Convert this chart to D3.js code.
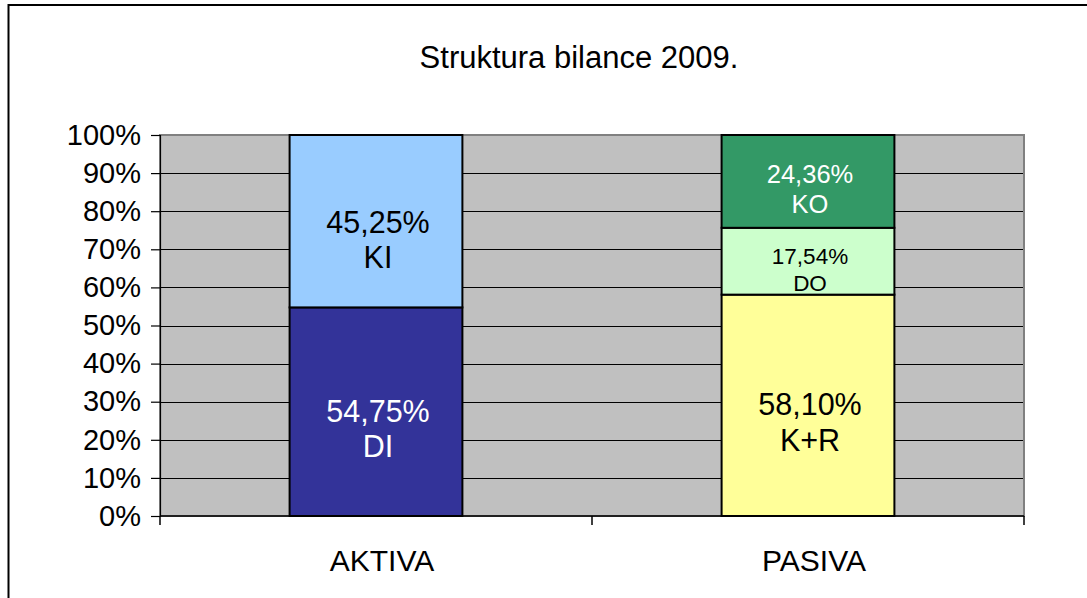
<!DOCTYPE html>
<html>
<head>
<meta charset="utf-8">
<script src="https://cdn.jsdelivr.net/npm/d3@7"></script>
<style>
  body { margin: 0; background: #fff; }
  text { font-family: "Liberation Sans", Arial, sans-serif; }
</style>
</head>
<body>
<div class="chart"></div>
<script>
// chart data
var categories = ["AKTIVA", "PASIVA"];
var segmentNames = ["DI", "KI", "K+R", "DO", "KO"];
var segmentCategory = ["AKTIVA", "AKTIVA", "PASIVA", "PASIVA", "PASIVA"];
var segmentValues = [54.75, 45.25, 58.10, 17.54, 24.36];
var segmentColors = ["#333399", "#99CCFF", "#FFFF99", "#CCFFCC", "#339966"];
var yTicks = [0, 10, 20, 30, 40, 50, 60, 70, 80, 90, 100];
var title = "Struktura bilance 2009.";

// label styles per segment (font size, text colour, baseline shift)
var labelStyle = {
  "DI":  { size: 30.5, fill: "#fff", dy: 10, gap: 35 },
  "KI":  { size: 30.5, fill: "#000", dy: 12, gap: 35 },
  "K+R": { size: 30.5, fill: "#000", dy: 10, gap: 36 },
  "DO":  { size: 22.5, fill: "#000", dy: 3, gap: 27 },
  "KO":  { size: 25.5, fill: "#fff", dy: 2, gap: 30 }
};

var svgWidth = 1087;
var svgHeight = 598;

var margin = { top: 135, right: 63, bottom: 82, left: 160 };
var width = svgWidth - margin.left - margin.right;
var height = svgHeight - margin.top - margin.bottom;

var svg = d3.select(".chart")
  .append("svg")
  .attr("width", svgWidth)
  .attr("height", svgHeight);

// outer frame
svg.append("rect")
  .attr("x", 8.5)
  .attr("y", 5)
  .attr("width", 1200)
  .attr("height", 800)
  .attr("fill", "none")
  .attr("stroke", "#000")
  .attr("stroke-width", 2);

svg.append("text")
  .attr("x", 579)
  .attr("y", 68)
  .attr("text-anchor", "middle")
  .attr("font-size", 31)
  .text(title);

var chartGroup = svg.append("g")
  .attr("transform", `translate(${margin.left}, ${margin.top})`);

var x_scale = d3.scaleBand()
  .domain(categories)
  .range([0, width]);

var y_scale = d3.scaleLinear()
  .domain([0, 100])
  .range([height, 0]);

// plot background
chartGroup.append("rect")
  .attr("width", width)
  .attr("height", height)
  .attr("fill", "#C0C0C0");

// gridlines
chartGroup.selectAll(".grid")
  .data(yTicks.filter(d => d > 0 && d < 100))
  .enter()
  .append("line")
  .attr("x1", 0)
  .attr("x2", width)
  .attr("y1", d => Math.round(y_scale(d)) + 0.5)
  .attr("y2", d => Math.round(y_scale(d)) + 0.5)
  .attr("stroke", "#000")
  .attr("stroke-width", 1.2);

// plot border
chartGroup.append("rect")
  .attr("width", width)
  .attr("height", height)
  .attr("fill", "none")
  .attr("stroke", "#808080")
  .attr("stroke-width", 2);

// stacked segments
var segments = segmentNames.map(function (name, i) {
  var base = 0;
  for (var j = 0; j < i; j++) {
    if (segmentCategory[j] === segmentCategory[i]) base += segmentValues[j];
  }
  return { name: name, cat: segmentCategory[i], y0: base, y1: base + segmentValues[i], value: segmentValues[i], color: segmentColors[i] };
});

var barWidth = x_scale.bandwidth() * 0.4;

chartGroup.selectAll(".seg")
  .data(segments)
  .enter()
  .append("rect")
  .attr("x", d => x_scale(d.cat) + (x_scale.bandwidth() - barWidth) / 2)
  .attr("y", d => y_scale(d.y1))
  .attr("width", barWidth)
  .attr("height", d => y_scale(d.y0) - y_scale(d.y1))
  .attr("fill", d => d.color)
  .attr("stroke", "#000")
  .attr("stroke-width", 2);

// segment labels
var labels = chartGroup.selectAll(".lab")
  .data(segments)
  .enter()
  .append("text")
  .attr("text-anchor", "middle")
  .attr("font-size", d => labelStyle[d.name].size)
  .attr("fill", d => labelStyle[d.name].fill);

labels.append("tspan")
  .attr("x", d => x_scale(d.cat) + x_scale.bandwidth() / 2 + 2)
  .attr("y", d => (y_scale(d.y0) + y_scale(d.y1)) / 2 + labelStyle[d.name].dy)
  .text(d => d.value.toFixed(2).replace(".", ",") + "%");

labels.append("tspan")
  .attr("x", d => x_scale(d.cat) + x_scale.bandwidth() / 2 + 2)
  .attr("y", d => (y_scale(d.y0) + y_scale(d.y1)) / 2 + labelStyle[d.name].dy + labelStyle[d.name].gap)
  .text(d => d.name);

// y axis
var leftAxis = d3.axisLeft(y_scale)
  .tickValues(yTicks)
  .tickSize(9)
  .tickPadding(10)
  .tickFormat(d => d + "%");

var yAxis = chartGroup.append("g").call(leftAxis);
yAxis.select(".domain").attr("stroke", "#000").attr("stroke-width", 1.2);
yAxis.selectAll(".tick line").attr("stroke", "#000").attr("stroke-width", 1.2);
yAxis.selectAll(".tick text")
  .attr("font-size", 29)
  .attr("font-family", "Liberation Sans, Arial, sans-serif")
  .attr("fill", "#000");

// x axis
var xAxisGroup = chartGroup.append("g")
  .attr("transform", `translate(0, ${height})`);

xAxisGroup.append("line")
  .attr("x1", 0).attr("x2", width)
  .attr("y1", 0).attr("y2", 0)
  .attr("stroke", "#000")
  .attr("stroke-width", 1.5);

var xTickPos = [0].concat(categories.map(c => x_scale(c) + x_scale.bandwidth()));
xAxisGroup.selectAll(".xt")
  .data(xTickPos)
  .enter()
  .append("line")
  .attr("x1", d => d).attr("x2", d => d)
  .attr("y1", 0).attr("y2", 9)
  .attr("stroke", "#000")
  .attr("stroke-width", 1.5);

xAxisGroup.selectAll(".xl")
  .data(categories)
  .enter()
  .append("text")
  .attr("x", d => x_scale(d) + x_scale.bandwidth() / 2 + 6)
  .attr("y", 55)
  .attr("text-anchor", "middle")
  .attr("font-size", 30)
  .text(d => d);
</script>
</body>
</html>
